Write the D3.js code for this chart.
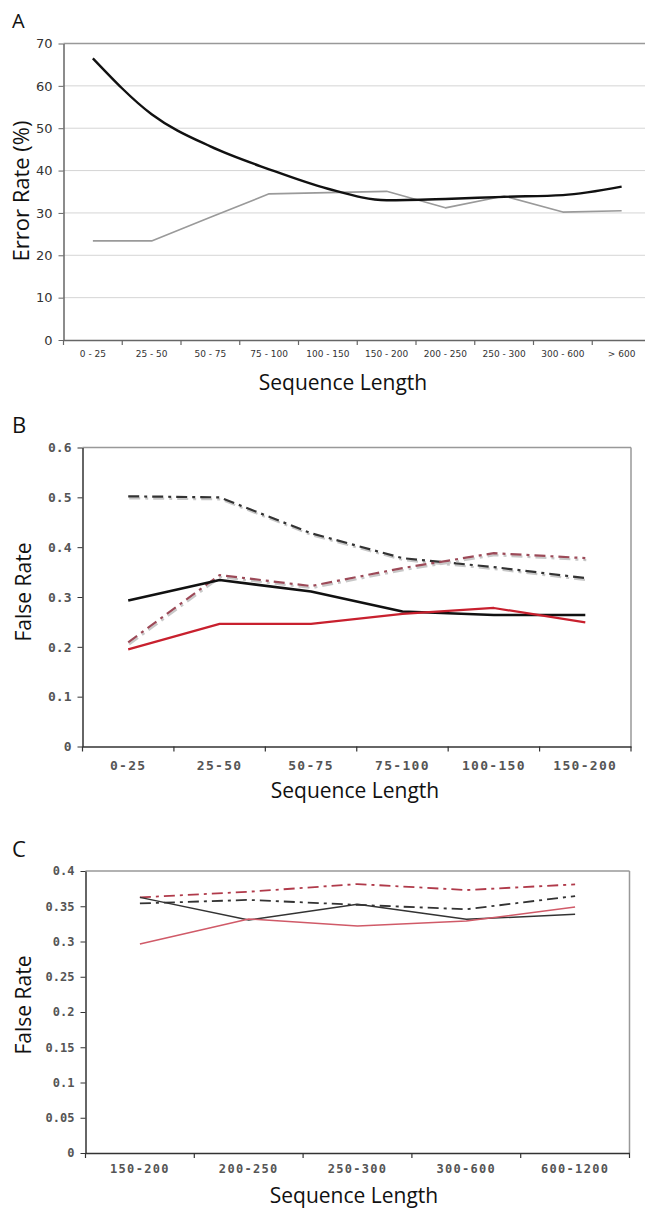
<!DOCTYPE html>
<html>
<head>
<meta charset="utf-8">
<script src="https://cdn.jsdelivr.net/npm/d3@7"></script>
<style>
  body { margin: 0; background: #fff; }
  svg { display: block; }
  .ttl { font-family: "Open Sans", sans-serif; fill: #111; }
  .mono text { font-family: "DejaVu Sans Mono", monospace; font-weight: bold; fill: #555; }
</style>
</head>
<body>
<div id="chart"></div>
<script>
// ---- data ----
var catsA = ["0 - 25", "25 - 50", "50 - 75", "75 - 100", "100 - 150", "150 - 200", "200 - 250", "250 - 300", "300 - 600", "> 600"];
var blackA = [66.5, 53.3, 45.7, 40.3, 35.7, 33.0, 33.3, 33.8, 34.2, 36.2];
var grayA = [23.4, 23.4, 29.0, 34.5, 34.8, 35.1, 31.2, 34.0, 30.2, 30.5];
var yTicksA = [0, 10, 20, 30, 40, 50, 60, 70];

var catsB = ["0-25", "25-50", "50-75", "75-100", "100-150", "150-200"];
var blackSolidB = [0.293, 0.334, 0.311, 0.271, 0.264, 0.264];
var redSolidB = [0.195, 0.246, 0.246, 0.266, 0.278, 0.249];
var blackDashB = [0.502, 0.500, 0.428, 0.378, 0.360, 0.338];
var redDashB = [0.209, 0.344, 0.322, 0.358, 0.388, 0.378];
var yTicksB = [0, 0.1, 0.2, 0.3, 0.4, 0.5, 0.6];

var catsC = ["150-200", "200-250", "250-300", "300-600", "600-1200"];
var blackSolidC = [0.3626, 0.3305, 0.353, 0.3315, 0.3385];
var redSolidC = [0.2965, 0.332, 0.322, 0.329, 0.349];
var blackDashC = [0.354, 0.359, 0.352, 0.3457, 0.3645];
var redDashC = [0.3626, 0.3706, 0.3815, 0.373, 0.381];
var yTicksC = [0, 0.05, 0.1, 0.15, 0.2, 0.25, 0.3, 0.35, 0.4];

var svg = d3.select("#chart").append("svg")
    .attr("width", 645)
    .attr("height", 1210);

function panel(o) {
  var g = svg.append("g");
  var x = d3.scaleBand().domain(o.cats).range([o.left, o.right]);
  var y = d3.scaleLinear().domain([0, o.ymax]).range([o.bottom, o.top]);
  var cx = function (c) { return x(c) + x.bandwidth() / 2; };

  // grid
  if (o.grid) {
    g.selectAll(".grid").data(o.yTicks.slice(1, -1)).enter().append("line")
      .attr("x1", o.left).attr("x2", o.right)
      .attr("y1", function (d) { return y(d); }).attr("y2", function (d) { return y(d); })
      .attr("stroke", "#aaa").attr("stroke-width", 1).attr("stroke-dasharray", "1,1");
  }
  // frame top / right
  g.append("line").attr("x1", o.left).attr("x2", o.right).attr("y1", o.top).attr("y2", o.top)
    .attr("stroke", "#999").attr("stroke-width", 1.5);
  g.append("line").attr("x1", o.right).attr("x2", o.right).attr("y1", o.top).attr("y2", o.bottom)
    .attr("stroke", "#999").attr("stroke-width", 1.5);

  // y axis
  var ya = g.append("g").attr("transform", "translate(" + o.left + ",0)")
    .attr("class", o.mono ? "mono" : "")
    .call(d3.axisLeft(y).tickValues(o.yTicks).tickSizeInner(5).tickSizeOuter(0).tickPadding(o.ypad)
      .tickFormat(function (d) { return String(d); }));
  ya.select(".domain").attr("stroke", o.axisColor).attr("stroke-width", 1.5);
  ya.selectAll(".tick line").attr("stroke", o.axisColor);
  ya.selectAll("text").style("font-size", o.yFont + "px");
  if (!o.mono) ya.selectAll("text").style("font-family", "DejaVu Sans, sans-serif").style("fill", "#333");

  // x axis: labels at centers, ticks at band edges
  var xa = g.append("g").attr("transform", "translate(0," + o.bottom + ")")
    .attr("class", o.mono ? "mono" : "")
    .call(d3.axisBottom(x).tickSize(0).tickPadding(o.xpad));
  xa.select(".domain").attr("stroke", o.axisColor).attr("stroke-width", 1.5);
  xa.selectAll("text").style("font-size", o.xFont + "px");
  if (o.mono) xa.selectAll("text").style("letter-spacing", "1.3px");
  else xa.selectAll("text").style("font-family", "DejaVu Sans, sans-serif").style("fill", "#333");
  var edges = o.cats.map(function (c) { return x(c); }).concat([o.right]);
  g.selectAll(".xt").data(edges).enter().append("line")
    .attr("x1", function (d) { return d; }).attr("x2", function (d) { return d; })
    .attr("y1", o.bottom).attr("y2", o.bottom + 5)
    .attr("stroke", o.axisColor).attr("stroke-width", 1.2);

  // series
  o.series.forEach(function (s) {
    var line = d3.line()
      .x(function (d, i) { return cx(o.cats[i]); })
      .y(function (d) { return y(d); })
      .curve(s.smooth ? d3.curveMonotoneX : d3.curveLinear);
    if (s.shadow) {
      g.append("path").datum(s.values).attr("d", line)
        .attr("fill", "none").attr("stroke", "#c8c8c8").attr("stroke-width", s.width)
        .attr("stroke-dasharray", s.dash).attr("transform", "translate(1,2)");
    }
    g.append("path").datum(s.values).attr("d", line)
      .attr("fill", "none").attr("stroke", s.color).attr("stroke-width", s.width)
      .attr("stroke-dasharray", s.dash || null).attr("stroke-linejoin", "round");
  });

  // titles
  g.append("text").attr("class", "ttl").attr("x", o.letter[0]).attr("y", o.letter[1])
    .style("font-size", o.letterSize + "px").text(o.letterText);
  g.append("text").attr("class", "ttl").attr("text-anchor", "middle")
    .attr("x", o.xTitle[0]).attr("y", o.xTitle[1]).style("font-size", "21px").text("Sequence Length");
  g.append("text").attr("class", "ttl").attr("text-anchor", "middle")
    .attr("transform", "translate(" + o.yTitle[0] + "," + o.yTitle[1] + ") rotate(-90)")
    .style("font-size", o.yTitleSize + "px").text(o.yTitleText);
}

panel({
  cats: catsA, ymax: 70, yTicks: yTicksA, grid: true, mono: false,
  left: 63.5, right: 651, top: 43.5, bottom: 340,
  axisColor: "#666", yFont: 13, xFont: 9, ypad: 6, xpad: 11,
  letter: [12, 28], letterSize: 20, letterText: "A",
  xTitle: [343, 390], yTitle: [29, 191], yTitleSize: 22, yTitleText: "Error Rate (%)",
  series: [
    { values: grayA, color: "#9a9a9a", width: 1.6 },
    { values: blackA, color: "#111", width: 2.4, smooth: true }
  ]
});

panel({
  cats: catsB, ymax: 0.6, yTicks: yTicksB, grid: false, mono: true,
  left: 82.5, right: 631, top: 447.5, bottom: 746.5,
  axisColor: "#333", yFont: 13, xFont: 13, ypad: 6, xpad: 14,
  letter: [12, 433], letterSize: 22, letterText: "B",
  xTitle: [355, 798], yTitle: [31, 592], yTitleSize: 21, yTitleText: "False Rate",
  series: [
    { values: blackDashB, color: "#333", width: 2.2, dash: "11,5,3,5", shadow: true },
    { values: redDashB, color: "#9c4a58", width: 2.2, dash: "11,5,3,5", shadow: true },
    { values: blackSolidB, color: "#111", width: 2.6 },
    { values: redSolidB, color: "#c8202e", width: 2.2 }
  ]
});

panel({
  cats: catsC, ymax: 0.4, yTicks: yTicksC, grid: false, mono: true,
  left: 85.5, right: 629.5, top: 871, bottom: 1153,
  axisColor: "#333", yFont: 12, xFont: 12, ypad: 6, xpad: 11,
  letter: [12, 857], letterSize: 22, letterText: "C",
  xTitle: [354, 1203], yTitle: [31, 1005], yTitleSize: 21, yTitleText: "False Rate",
  series: [
    { values: redDashC, color: "#b03a4a", width: 1.8, dash: "11,5,3,5" },
    { values: blackDashC, color: "#333", width: 1.8, dash: "11,5,3,5" },
    { values: blackSolidC, color: "#333", width: 1.5 },
    { values: redSolidC, color: "#d05a68", width: 1.5 }
  ]
});
</script>
</body>
</html>
